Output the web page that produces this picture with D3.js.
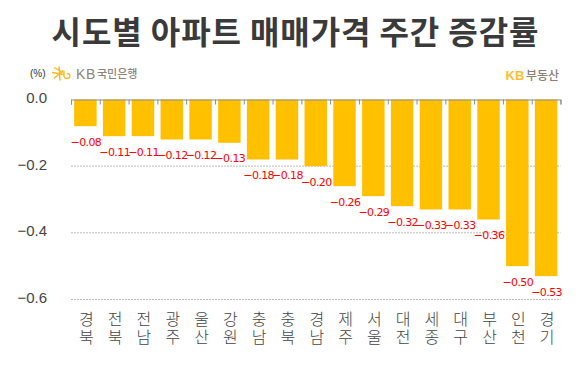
<!DOCTYPE html>
<html>
<head>
<meta charset="utf-8">
<script src="https://cdn.jsdelivr.net/npm/d3@7"></script>
<style>
  html, body { margin: 0; background: #fff; }
  svg { display: block; }
  text { font-family: "Liberation Sans", sans-serif; }
  text.kr { font-family: "Noto Sans CJK KR", sans-serif; }
  text.value { font-family: "DejaVu Sans", sans-serif; }
  text.cat { writing-mode: vertical-rl; }
</style>
</head>
<body>
<script>
const regions = ['경북', '전북', '전남', '광주', '울산', '강원', '충남', '충북', '경남', '제주', '서울', '대전', '세종', '대구', '부산', '인천', '경기'];
const values = [-0.08, -0.11, -0.11, -0.12, -0.12, -0.13, -0.18, -0.18, -0.20, -0.26, -0.29, -0.32, -0.33, -0.33, -0.36, -0.50, -0.53];
const yTicks = [0, -0.2, -0.4, -0.6];

const width = 585;
const height = 373;

const svg = d3.select('body').append('svg').attr('width', width).attr('height', height);

const x = d3.scaleBand().domain(regions).range([71, 560.5]).paddingInner(0.22).paddingOuter(0.11);
const y = d3.scaleLinear().domain([0, -0.6]).range([99.5, 299.5]);

svg.append('text')
  .attr('class', 'kr')
  .attr('x', 295.5)
  .attr('y', 44)
  .attr('text-anchor', 'middle')
  .attr('font-size', 32)
  .attr('font-weight', 700)
  .attr('letter-spacing', 0.9)
  .attr('fill', '#3a3a3a')
  .text('시도별 아파트 매매가격 주간 증감률');

// grid
svg.append('g').selectAll('line')
  .data(yTicks.slice(1))
  .enter().append('line')
  .attr('x1', 71)
  .attr('x2', 560.5)
  .attr('y1', (d) => y(d))
  .attr('y2', (d) => y(d))
  .attr('stroke', '#bbb')
  .attr('stroke-dasharray', '2,1');

svg.selectAll('rect.bar')
  .data(values)
  .enter().append('rect')
  .attr('class', 'bar')
  .attr('fill', '#ffc000')
  .attr('x', (d, i) => x(regions[i]))
  .attr('y', y(0))
  .attr('width', x.bandwidth())
  .attr('height', (d) => y(d) - y(0));

// axis line with ticks between the bars
const tickEdges = d3.scaleLinear().domain([0, regions.length]).range([71, 560.5]);
const xAxis = d3.axisBottom(tickEdges).tickValues(d3.range(regions.length + 1)).tickFormat('').tickSize(5).tickSizeOuter(5);
const xg = svg.append('g').attr('transform', 'translate(0,' + y(0) + ')').call(xAxis);
xg.selectAll('path, line').attr('stroke', '#8c8c8c');

const yAxis = d3.axisLeft(y).tickValues(yTicks).tickFormat(d3.format('.1f')).tickSize(0).tickPadding(0);
const yg = svg.append('g').attr('transform', 'translate(47,0)').call(yAxis);
yg.select('.domain').remove();
yg.selectAll('text')
  .attr('font-size', 15)
  .attr('fill', '#444')
  .attr('dy', '0.2em');

svg.selectAll('text.value')
  .data(values)
  .enter().append('text')
  .attr('class', 'value')
  .attr('x', (d, i) => x(regions[i]) + x.bandwidth() / 2 + 0.5)
  .attr('y', (d) => y(d) + 19.5)
  .attr('text-anchor', 'middle')
  .attr('font-size', 11)
  .attr('letter-spacing', -0.6)
  .attr('fill', '#ff0000')
  .text((d) => d3.format('.2f')(d));

// two stacked syllables, set as one vertical string
svg.selectAll('text.cat')
  .data(regions)
  .enter().append('text')
  .attr('class', 'cat kr')
  .attr('x', (d) => x(d) + x.bandwidth() / 2 + 1)
  .attr('y', 311)
  .attr('font-size', 16)
  .attr('font-weight', 300)
  .attr('letter-spacing', 2.4)
  .attr('fill', '#444')
  .text((d) => d);

// unit and logos
svg.append('text')
  .attr('x', 30)
  .attr('y', 77)
  .attr('font-size', 10)
  .attr('fill', '#333')
  .text('(%)');

const star = svg.append('g').attr('transform', 'translate(59,73.5)')
  .attr('stroke', '#f7b924').attr('fill', 'none').attr('stroke-width', 1.4);
star.append('path').attr('d', 'M-7,-1L5,1M0,-7L1,7M-5,-6L4,-1M-5,5L4,-3');
star.append('path').attr('d', 'M5,-3L5,2A3,2.5 0 1 0 8,0');

svg.append('text')
  .attr('x', 76)
  .attr('y', 78.5)
  .attr('font-size', 14)
  .attr('letter-spacing', 0.6)
  .attr('fill', '#8c8578')
  .text('KB');
svg.append('text')
  .attr('class', 'kr')
  .attr('x', 97)
  .attr('y', 78)
  .attr('font-size', 11)
  .attr('font-weight', 500)
  .attr('fill', '#8c8578')
  .text('국민은행');

svg.append('text')
  .attr('x', 505.5)
  .attr('y', 80)
  .attr('font-size', 13)
  .attr('font-weight', 700)
  .attr('fill', '#fcbf2b')
  .text('KB');
svg.append('text')
  .attr('class', 'kr')
  .attr('x', 526)
  .attr('y', 80)
  .attr('font-size', 12)
  .attr('font-weight', 500)
  .attr('fill', '#8a8178')
  .text('부동산');
</script>
</body>
</html>
